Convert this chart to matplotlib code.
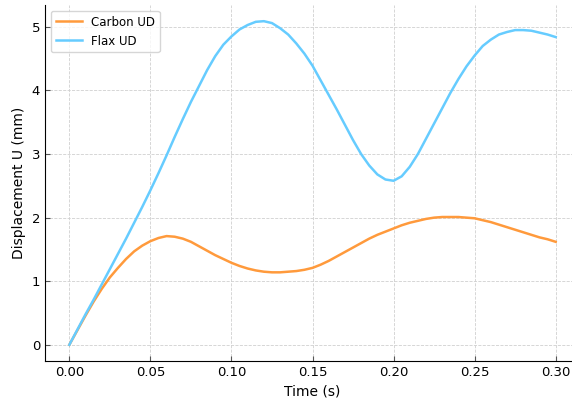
import matplotlib

matplotlib.use('Agg')
import matplotlib.pyplot as plt

# Displacement readings, sampled every 5 ms
time_s = [
    0.000, 0.005, 0.010, 0.015, 0.020, 0.025, 0.030, 0.035, 0.040, 0.045,
    0.050, 0.055, 0.060, 0.065, 0.070, 0.075, 0.080, 0.085, 0.090, 0.095,
    0.100, 0.105, 0.110, 0.115, 0.120, 0.125, 0.130, 0.135, 0.140, 0.145,
    0.150, 0.155, 0.160, 0.165, 0.170, 0.175, 0.180, 0.185, 0.190, 0.195,
    0.200, 0.205, 0.210, 0.215, 0.220, 0.225, 0.230, 0.235, 0.240, 0.245,
    0.250, 0.255, 0.260, 0.265, 0.270, 0.275, 0.280, 0.285, 0.290, 0.295,
    0.300,
]
carbon_ud = [
    0.00, 0.23, 0.46, 0.68, 0.88, 1.06, 1.21, 1.35, 1.47, 1.56,
    1.63, 1.68, 1.71, 1.70, 1.67, 1.62, 1.55, 1.48, 1.41, 1.35,
    1.29, 1.24, 1.20, 1.17, 1.15, 1.14, 1.14, 1.15, 1.16, 1.18,
    1.21, 1.26, 1.32, 1.39, 1.46, 1.53, 1.60, 1.67, 1.73, 1.78,
    1.83, 1.88, 1.92, 1.95, 1.98, 2.00, 2.01, 2.01, 2.01, 2.00,
    1.99, 1.96, 1.93, 1.89, 1.85, 1.81, 1.77, 1.73, 1.69, 1.66,
    1.62,
]
flax_ud = [
    0.00, 0.24, 0.48, 0.71, 0.95, 1.19, 1.43, 1.67, 1.92, 2.17,
    2.43, 2.70, 2.98, 3.27, 3.55, 3.82, 4.07, 4.32, 4.54, 4.72,
    4.85, 4.96, 5.03, 5.08, 5.09, 5.06, 4.98, 4.88, 4.74, 4.58,
    4.39, 4.16, 3.93, 3.70, 3.46, 3.22, 3.00, 2.82, 2.68, 2.60,
    2.58, 2.65, 2.80, 3.00, 3.24, 3.48, 3.72, 3.96, 4.18, 4.38,
    4.55, 4.70, 4.80, 4.88, 4.92, 4.95, 4.95, 4.94, 4.91, 4.88,
    4.84,
]

fig = plt.figure(figsize=(5.72, 3.98), dpi=100)
ax = fig.add_axes([45 / 572, 37 / 398, 535 / 572, 356 / 398])

ax.plot(time_s, carbon_ud, color='#ff9a3c', linewidth=1.8, label='Carbon UD')
ax.plot(time_s, flax_ud, color='#66ccff', linewidth=1.8, label='Flax UD')

ax.set_xlabel('Time (s)', fontsize=10)
ax.set_ylabel('Displacement U (mm)', fontsize=10)
ax.set_xticks([0.0, 0.05, 0.10, 0.15, 0.20, 0.25, 0.30])
ax.set_xticklabels(['0.00', '0.05', '0.10', '0.15', '0.20', '0.25', '0.30'])
ax.set_yticks([0, 1, 2, 3, 4, 5])
ax.tick_params(direction='in', labelsize=9.5, color='#555555')

for side in ('top', 'right'):
    ax.spines[side].set_visible(False)
ax.grid(True, linestyle='--', linewidth=0.6, color='#d0d0d0')
ax.set_axisbelow(True)

ax.legend(loc='upper left', fontsize=8.5, framealpha=0.8, handlelength=2.2)

fig.savefig('out.png', dpi=100)
